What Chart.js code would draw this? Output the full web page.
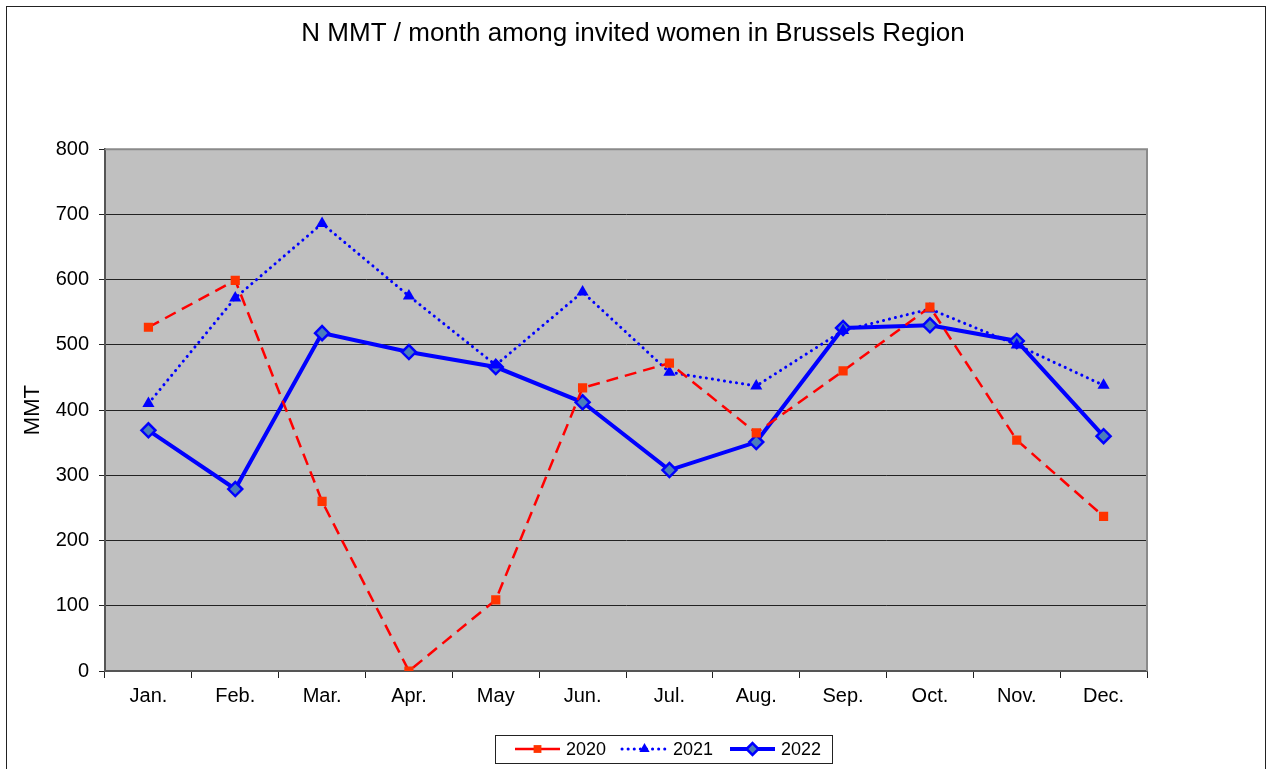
<!DOCTYPE html>
<html>
<head>
<meta charset="utf-8">
<script src="https://cdn.jsdelivr.net/npm/chart.js@4"></script>
<style>
  body { margin: 0; background: #fff; }
  #wrap { position: relative; width: 1266px; height: 769px; }
  #frame { position: absolute; left: 6px; top: 6px; width: 1258px; height: 780px; border: 1px solid #222; pointer-events: none; }
</style>
</head>
<body>
<div id="wrap">
  <canvas id="chart" width="1266" height="769"></canvas>
  <div id="frame"></div>
</div>
<script>
var months = ['Jan.', 'Feb.', 'Mar.', 'Apr.', 'May', 'Jun.', 'Jul.', 'Aug.', 'Sep.', 'Oct.', 'Nov.', 'Dec.'];
var mmt2020 = [527, 599, 260, 0, 109, 434, 472, 365, 460, 558, 354, 237];
var mmt2021 = [410, 572, 686, 575, 469, 581, 458, 437, 522, 555, 500, 438];
var mmt2022 = [369, 279, 518, 489, 466, 412, 308, 351, 526, 530, 506, 360];
var yTicks = [0, 100, 200, 300, 400, 500, 600, 700, 800];

var FONT = "'Liberation Sans', Arial, sans-serif";

// grey plot background + frame on top/right
var plotBg = {
    id: 'plotBg',
    beforeDraw: function (chart) {
        var a = chart.chartArea, c = chart.ctx;
        c.save();
        c.fillStyle = '#C0C0C0';
        c.fillRect(a.left, a.top, a.right - a.left, a.bottom - a.top);
        c.restore();
    },
    afterDatasetsDraw: function (chart) {
        var a = chart.chartArea, c = chart.ctx;
        c.save();
        c.strokeStyle = '#8a8a8a';
        c.lineWidth = 2;
        c.beginPath();
        c.moveTo(a.left, a.top);
        c.lineTo(a.right, a.top);
        c.lineTo(a.right, a.bottom);
        c.stroke();
        c.restore();
    }
};

// legend drawn like the spreadsheet one: line + marker, boxed
var boxLegend = {
    id: 'boxLegend',
    afterDraw: function (chart) {
        var c = chart.ctx;
        var x0 = 495, y0 = 735, w = 337, h = 28, cy = y0 + h / 2;
        c.save();
        c.fillStyle = '#fff';
        c.fillRect(x0, y0, w, h);
        c.strokeStyle = '#222';
        c.lineWidth = 1;
        c.strokeRect(x0 + 0.5, y0 + 0.5, w, h);
        var starts = [515, 622, 730];
        chart.data.datasets.forEach(function (ds, i) {
            var sx = starts[i], ex = sx + 45, mx = sx + 22.5;
            c.save();
            c.strokeStyle = ds.borderColor;
            c.lineWidth = ds.borderWidth;
            c.setLineDash(ds.legendDash);
            c.lineCap = ds.borderCapStyle || 'butt';
            c.beginPath();
            c.moveTo(sx, cy);
            c.lineTo(ex, cy);
            c.stroke();
            c.restore();
            c.save();
            c.fillStyle = ds.pointBackgroundColor;
            c.strokeStyle = ds.pointBorderColor;
            c.lineWidth = ds.pointBorderWidth;
            Chart.helpers.drawPoint(c, {
                pointStyle: ds.pointStyle,
                radius: ds.pointRadius * 0.85,
                rotation: 0,
                borderWidth: ds.pointBorderWidth
            }, mx, cy);
            c.restore();
            c.fillStyle = '#000';
            c.font = '18px ' + FONT;
            c.textBaseline = 'middle';
            c.fillText(ds.label, ex + 6, cy + 1);
        });
        c.restore();
    }
};

var ctx = document.getElementById('chart').getContext('2d');
var myChart = new Chart(ctx, {
    type: 'line',
    data: {
        labels: months,
        datasets: [{
            label: '2020',
            data: mmt2020,
            borderColor: '#FF0000',
            borderWidth: 2.5,
            borderDash: [12, 7],
            legendDash: [],
            pointStyle: 'rect',
            pointRadius: 6.5,
            pointBackgroundColor: '#FF3300',
            pointBorderColor: '#FF3300',
            pointBorderWidth: 0,
            tension: 0
        }, {
            label: '2021',
            data: mmt2021,
            borderColor: '#0000FF',
            borderWidth: 3,
            borderDash: [0.1, 6],
            legendDash: [0.1, 6],
            borderCapStyle: 'round',
            pointStyle: 'triangle',
            pointRadius: 7,
            pointBackgroundColor: '#0000FF',
            pointBorderColor: '#0000FF',
            pointBorderWidth: 0,
            tension: 0
        }, {
            label: '2022',
            data: mmt2022,
            borderColor: '#0000FF',
            borderWidth: 4,
            borderDash: [],
            legendDash: [],
            pointStyle: 'rectRot',
            pointRadius: 7,
            pointBackgroundColor: '#4A7EBB',
            pointBorderColor: '#0000FF',
            pointBorderWidth: 2.5,
            tension: 0
        }]
    },
    options: {
        responsive: false,
        animation: false,
        layout: { padding: { left: 6, right: 6, top: 6, bottom: 0 } },
        plugins: {
            legend: { display: false },
            tooltip: { enabled: false },
            title: {
                display: true,
                text: 'N MMT / month among invited women in Brussels Region',
                color: '#000',
                font: { family: FONT, size: 26, weight: 'normal' },
                padding: { top: 12, bottom: 100 }
            }
        },
        scales: {
            x: {
                offset: true,
                grid: { offset: true, drawOnChartArea: false, drawTicks: true, tickLength: 7, color: '#222' },
                border: { display: true, color: '#555', width: 2 },
                ticks: { color: '#000', font: { family: FONT, size: 20 }, padding: 6, maxRotation: 0 },
                afterFit: function (s) { s.height = 98; }
            },
            y: {
                min: 0,
                max: 800,
                afterBuildTicks: function (s) { s.ticks = yTicks.map(function (v) { return { value: v }; }); },
                grid: { color: '#222', lineWidth: 1, drawTicks: true, tickLength: 6 },
                border: { display: true, color: '#555', width: 2 },
                ticks: { color: '#000', font: { family: FONT, size: 20 }, padding: 10 },
                title: { display: true, text: 'MMT', color: '#000', font: { family: FONT, size: 22 }, padding: { top: 14, bottom: 0 } },
                afterFit: function (s) { s.width = 99; }
            },
            yr: {
                position: 'right',
                display: true,
                grid: { display: false },
                border: { display: false },
                ticks: { display: false },
                afterFit: function (s) { s.width = 113; }
            }
        }
    },
    plugins: [plotBg, boxLegend]
});
</script>
</body>
</html>
